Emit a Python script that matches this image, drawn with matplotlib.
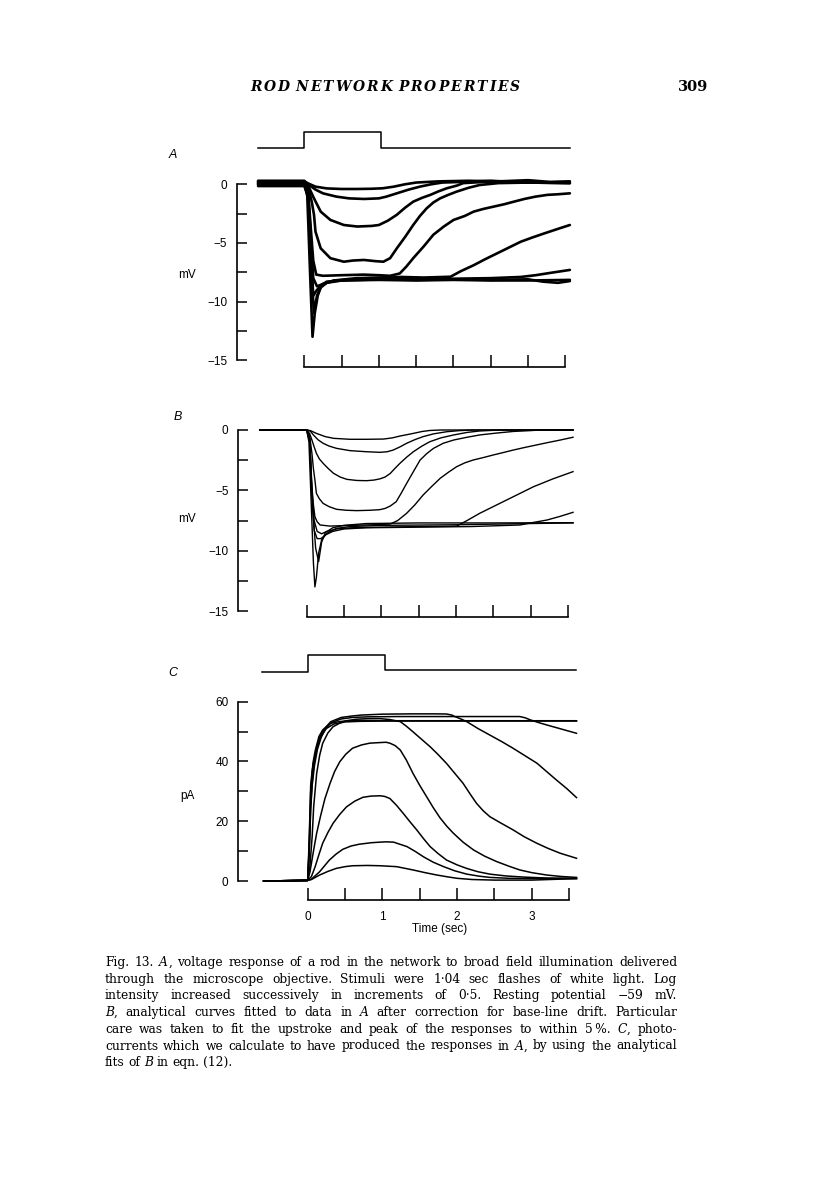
import matplotlib
matplotlib.use("Agg")
import matplotlib.pyplot as plt

W, H = 816, 1185
SANS = "Liberation Sans"
SERIF = "DejaVu Serif"

# ---------------- values (time in sec) ----------------
# stimulus monitor (0 = light off, 1 = light on)
stim_a_t = [-0.62, 0.0, 0.0, 1.03, 1.03, 3.56]
stim_a_v = [0, 0, 1, 1, 0, 0]
stim_c_t = [-0.61, 0.0, 0.0, 1.04, 1.04, 3.59]
stim_c_v = [0, 0, 1, 1, 0.1, 0.1]

# A: recorded voltage responses (mV)
a1_t = [-0.62, 0.0, 0.06, 0.15, 0.3, 0.5, 0.7, 0.9, 1.05, 1.2, 1.35, 1.5, 1.8, 2.2, 2.6, 3.0, 3.3, 3.56]
a1_v = [0.25, 0.25, 0.05, -0.2, -0.35, -0.4, -0.4, -0.38, -0.34, -0.2, 0.0, 0.15, 0.25, 0.3, 0.25, 0.35, 0.2, 0.25]
a2_t = [-0.62, 0.0, 0.05, 0.15, 0.25, 0.43, 0.6, 0.8, 1.0, 1.1, 1.25, 1.4, 1.55, 1.7, 1.85, 2.1, 2.5, 3.0, 3.56]
a2_v = [0.1, 0.1, 0.0, -0.45, -0.77, -1.05, -1.2, -1.25, -1.2, -1.05, -0.75, -0.45, -0.2, 0.0, 0.15, 0.2, 0.3, 0.15, 0.1]
a3_t = [-0.62, 0.0, 0.05, 0.13, 0.22, 0.35, 0.53, 0.71, 0.9, 1.0, 1.12, 1.24, 1.35, 1.46, 1.58, 1.69,
        1.8, 1.91, 2.05, 2.13, 2.4, 3.0, 3.56]
a3_v = [0.3, 0.3, -0.1, -1.2, -2.33, -3.04, -3.47, -3.6, -3.55, -3.47, -3.1, -2.6, -2.0, -1.48, -1.15, -0.9,
        -0.6, -0.34, -0.1, 0.1, 0.2, 0.15, 0.2]
a4_t = [-0.62, 0.0, 0.05, 0.1, 0.13, 0.15, 0.22, 0.35, 0.53, 0.65, 0.8, 0.95, 1.06, 1.15, 1.24, 1.35,
        1.46, 1.55, 1.64, 1.73, 1.82, 1.93, 2.04, 2.2, 2.35, 2.6, 3.0, 3.56]
a4_v = [-0.05, -0.05, -0.2, -1.5, -2.6, -4.04, -5.46, -6.3, -6.6, -6.5, -6.45, -6.55, -6.6, -6.3, -5.46, -4.5,
        -3.47, -2.7, -2.05, -1.55, -1.2, -0.9, -0.63, -0.3, -0.06, 0.1, 0.15, 0.1]
a5_t = [-0.62, 0.0, 0.05, 0.09, 0.12, 0.16, 0.25, 0.5, 0.8, 1.0, 1.15, 1.28, 1.37, 1.46, 1.6, 1.73, 1.87,
        2.0, 2.15, 2.27, 2.4, 2.54, 2.68, 2.81, 2.95, 3.1, 3.26, 3.4, 3.56]
a5_v = [0.15, 0.15, -0.5, -4.0, -6.5, -7.7, -7.8, -7.75, -7.7, -7.75, -7.8, -7.6, -7.0, -6.3, -5.3, -4.3, -3.6,
        -3.04, -2.7, -2.33, -2.1, -1.9, -1.7, -1.48, -1.25, -1.05, -0.9, -0.85, -0.77]
a6_t = [-0.62, 0.0, 0.05, 0.09, 0.12, 0.17, 0.25, 0.4, 0.7, 1.0, 1.3, 1.6, 1.96, 2.1, 2.27, 2.42, 2.58,
        2.74, 2.9, 3.05, 3.21, 3.4, 3.56]
a6_v = [0.0, 0.0, -0.6, -5.0, -8.0, -8.7, -8.5, -8.2, -8.0, -7.95, -7.9, -7.95, -7.88, -7.4, -6.9, -6.4, -5.9,
        -5.4, -4.9, -4.55, -4.2, -3.8, -3.47]
a7_t = [-0.62, 0.0, 0.05, 0.09, 0.12, 0.17, 0.25, 0.4, 0.7, 1.0, 1.5, 2.0, 2.5, 2.9, 3.1, 3.3, 3.56]
a7_v = [0.2, 0.2, -0.8, -6.0, -9.5, -9.0, -8.5, -8.2, -8.1, -8.0, -8.0, -8.05, -8.0, -7.9, -7.75, -7.55, -7.3]
a8_t = [-0.62, 0.0, 0.05, 0.09, 0.13, 0.17, 0.22, 0.3, 0.5, 1.0, 1.5, 2.0, 2.5, 3.0, 3.2, 3.4, 3.56]
a8_v = [-0.15, -0.15, -1.0, -7.0, -11.0, -9.5, -8.8, -8.4, -8.2, -8.1, -8.15, -8.1, -8.15, -8.1, -8.3, -8.4, -8.25]
a9_t = [-0.62, 0.0, 0.04, 0.08, 0.11, 0.14, 0.18, 0.23, 0.3, 0.5, 1.0, 1.5, 2.0, 2.5, 3.0, 3.56]
a9_v = [0.05, 0.05, -1.0, -8.0, -13.0, -11.0, -9.5, -8.6, -8.3, -8.2, -8.15, -8.2, -8.15, -8.2, -8.2, -8.15]

# B: analytical fits (mV)
b1_t = [-0.63, 0.0, 0.05, 0.13, 0.25, 0.36, 0.58, 0.8, 1.03, 1.15, 1.25, 1.35, 1.43, 1.55, 1.65, 1.8, 2.2, 3.57]
b1_v = [0, 0, -0.05, -0.28, -0.55, -0.69, -0.77, -0.77, -0.75, -0.65, -0.5, -0.38, -0.28, -0.12, -0.04, 0, 0, 0]
b2_t = [-0.63, 0.0, 0.05, 0.09, 0.15, 0.22, 0.3, 0.4, 0.58, 0.8, 0.98, 1.08, 1.16, 1.25, 1.34, 1.45, 1.56,
        1.7, 1.88, 2.05, 2.23, 3.57]
b2_v = [0, 0, -0.1, -0.41, -0.8, -1.1, -1.33, -1.52, -1.71, -1.8, -1.85, -1.8, -1.66, -1.4, -1.1, -0.8, -0.55,
        -0.32, -0.14, -0.05, 0, 0]
b3_t = [-0.63, 0.0, 0.04, 0.07, 0.1, 0.13, 0.17, 0.22, 0.29, 0.36, 0.45, 0.54, 0.67, 0.8, 0.9, 0.98, 1.05,
        1.12, 1.18, 1.25, 1.34, 1.43, 1.54, 1.65, 1.8, 1.97, 2.15, 2.32, 2.6, 3.57]
b3_v = [0, 0, -0.3, -0.83, -1.4, -1.93, -2.4, -2.76, -3.2, -3.59, -3.9, -4.09, -4.18, -4.2, -4.15, -4.05, -3.9,
        -3.6, -3.2, -2.76, -2.25, -1.8, -1.35, -0.97, -0.65, -0.41, -0.2, -0.08, 0, 0]
b4_t = [-0.63, 0.0, 0.04, 0.07, 0.09, 0.11, 0.13, 0.17, 0.22, 0.3, 0.4, 0.53, 0.67, 0.85, 0.98, 1.05, 1.12,
        1.2, 1.27, 1.34, 1.43, 1.52, 1.61, 1.7, 1.83, 1.97, 2.15, 2.32, 2.55, 2.77, 3.0, 3.13, 3.57]
b4_v = [0, 0, -0.5, -1.93, -3.2, -4.14, -5.25, -5.7, -6.08, -6.35, -6.57, -6.65, -6.68, -6.65, -6.6, -6.5, -6.3,
        -5.94, -5.2, -4.42, -3.45, -2.49, -1.95, -1.52, -1.1, -0.83, -0.6, -0.41, -0.25, -0.12, -0.05, 0, 0]
b5_t = [-0.63, 0.0, 0.04, 0.07, 0.09, 0.11, 0.14, 0.18, 0.31, 0.6, 0.9, 1.12, 1.22, 1.34, 1.45, 1.56, 1.68,
        1.79, 1.9, 2.01, 2.12, 2.23, 2.37, 2.5, 2.64, 2.77, 2.92, 3.08, 3.24, 3.4, 3.57]
b5_v = [0, 0, -0.7, -4.7, -6.2, -7.18, -7.6, -7.87, -7.96, -7.9, -7.85, -7.79, -7.5, -6.9, -6.2, -5.39, -4.65,
        -4.0, -3.5, -3.04, -2.72, -2.49, -2.28, -2.07, -1.86, -1.66, -1.45, -1.24, -1.03, -0.83, -0.6]
b6_t = [-0.63, 0.0, 0.04, 0.07, 0.1, 0.14, 0.2, 0.27, 0.4, 0.6, 1.0, 1.5, 1.9, 2.01, 2.15, 2.32, 2.5, 2.68,
        2.86, 3.04, 3.3, 3.57]
b6_v = [0, 0, -0.8, -5.0, -7.5, -8.4, -8.6, -8.4, -8.2, -8.1, -8.05, -8.0, -7.98, -7.96, -7.5, -6.9, -6.35, -5.8,
        -5.25, -4.7, -4.05, -3.45]
b7_t = [-0.63, 0.0, 0.04, 0.07, 0.1, 0.14, 0.19, 0.25, 0.35, 0.5, 0.8, 1.5, 2.2, 2.86, 3.0, 3.22, 3.4, 3.57]
b7_v = [0, 0, -0.9, -5.5, -8.3, -9.0, -9.0, -8.7, -8.4, -8.2, -8.1, -8.05, -8.0, -7.87, -7.7, -7.46, -7.15, -6.82]
b8_t = [-0.63, 0.0, 0.04, 0.08, 0.12, 0.16, 0.2, 0.25, 0.35, 0.5, 0.8, 1.5, 2.5, 3.57]
b8_v = [0, 0, -1.0, -6.5, -9.8, -10.9, -9.3, -8.5, -8.1, -7.9, -7.75, -7.7, -7.7, -7.68]
b9_t = [-0.63, 0.0, 0.03, 0.06, 0.09, 0.11, 0.13, 0.16, 0.2, 0.27, 0.4, 0.58, 1.0, 2.0, 3.0, 3.57]
b9_v = [0, 0, -1.0, -6.0, -11.0, -13.0, -12.2, -10.2, -9.1, -8.56, -8.15, -8.0, -7.9, -7.85, -7.75, -7.7]

# C: calculated photocurrents (pA)
c1_t = [-0.59, -0.3, 0.0, 0.05, 0.16, 0.27, 0.38, 0.5, 0.6, 0.8, 0.97, 1.19, 1.41, 1.57, 1.73, 1.87, 2.0,
        2.2, 2.5, 3.0, 3.6]
c1_v = [0, 0.05, 0.2, 0.5, 2.0, 3.2, 4.2, 4.8, 5.1, 5.2, 5.1, 4.8, 3.7, 2.8, 2.0, 1.4, 0.9, 0.5, 0.3, 0.3, 0.8]
c2_t = [-0.59, 0.0, 0.05, 0.16, 0.29, 0.38, 0.47, 0.58, 0.69, 0.85, 0.97, 1.05, 1.15, 1.33, 1.44, 1.55, 1.68,
        1.82, 1.97, 2.13, 2.3, 2.44, 2.7, 3.0, 3.6]
c2_v = [0, 0.2, 0.6, 3.1, 7.0, 9.0, 10.6, 11.7, 12.3, 12.8, 13.0, 13.1, 13.0, 11.5, 9.9, 8.1, 6.3,
        4.8, 3.4, 2.3, 1.6, 1.2, 0.9, 0.8, 0.8]
c3_t = [-0.59, 0.0, 0.05, 0.1, 0.15, 0.2, 0.27, 0.34, 0.43, 0.52, 0.63, 0.74, 0.85, 0.97, 1.03, 1.1, 1.19,
        1.28, 1.37, 1.46, 1.55, 1.64, 1.75, 1.86, 2.0, 2.13, 2.28, 2.44, 2.65, 2.9, 3.2, 3.6]
c3_v = [0, 0.2, 1.5, 4.8, 8.8, 12.6, 16.2, 19.3, 22.3, 24.8, 26.7, 28.0, 28.4, 28.5, 28.3, 27.6, 25.3,
        22.6, 19.8, 17.1, 14.2, 11.5, 9.1, 7.0, 5.4, 4.2, 3.1, 2.3, 1.7, 1.3, 1.0, 0.9]
c4_t = [-0.59, 0.0, 0.03, 0.08, 0.12, 0.17, 0.23, 0.3, 0.36, 0.43, 0.51, 0.6, 0.72, 0.83, 0.97, 1.05, 1.1,
        1.17, 1.24, 1.32, 1.41, 1.5, 1.59, 1.68, 1.77, 1.86, 1.95, 2.08, 2.22, 2.37, 2.53, 2.7, 2.84, 3.0,
        3.2, 3.4, 3.6]
c4_v = [0, 0.2, 3.0, 10.4, 16.0, 21.5, 27.5, 32.7, 36.6, 39.9, 42.4, 44.4, 45.5, 46.1, 46.3, 46.4, 46.1,
        45.3, 43.8, 40.5, 36.0, 32.0, 28.3, 24.6, 21.2, 18.4, 16.0, 13.0, 10.4, 8.3, 6.5, 4.9, 3.7, 2.8,
        2.0, 1.5, 1.2]
c5_t = [-0.59, 0.0, 0.03, 0.06, 0.08, 0.12, 0.16, 0.2, 0.27, 0.34, 0.43, 0.52, 0.65, 0.8, 0.97, 1.1, 1.24,
        1.32, 1.41, 1.52, 1.64, 1.75, 1.86, 1.97, 2.08, 2.17, 2.26, 2.35, 2.44, 2.6, 2.75, 2.9, 3.07, 3.22,
        3.38, 3.6]
c5_v = [0, 0.2, 5.0, 15.0, 24.8, 36.0, 42.0, 46.0, 49.5, 51.6, 52.8, 53.6, 54.1, 54.3, 54.3, 54.0, 53.3,
        51.8, 49.9, 47.5, 44.9, 42.2, 39.3, 36.0, 32.7, 29.3, 26.0, 23.5, 21.5, 19.2, 17.1, 14.8, 12.6, 10.9,
        9.3, 7.6]
c6_t = [-0.59, 0.0, 0.02, 0.04, 0.06, 0.08, 0.12, 0.16, 0.21, 0.31, 0.45, 0.6, 0.72, 1.0, 1.4, 1.7, 1.86,
        1.93, 1.97, 2.05, 2.13, 2.28, 2.44, 2.6, 2.75, 2.91, 3.07, 3.2, 3.33, 3.47, 3.6]
c6_v = [0, 0.2, 10.0, 25.0, 33.0, 38.2, 44.9, 48.0, 50.5, 53.3, 54.7, 55.2, 55.5, 55.8, 55.9, 55.9, 55.85,
        55.5, 55.0, 54.2, 53.3, 51.0, 48.8, 46.6, 44.4, 41.9, 39.4, 36.6, 33.8, 30.9, 27.9]
c7_t = [-0.59, 0.0, 0.02, 0.04, 0.06, 0.09, 0.13, 0.18, 0.24, 0.32, 0.45, 0.6, 0.8, 1.2, 1.8, 2.3, 2.84,
        2.91, 2.98, 3.09, 3.2, 3.4, 3.6]
c7_v = [0, 0.2, 9.0, 24.0, 32.0, 38.5, 44.0, 48.0, 51.0, 53.0, 54.2, 54.7, 54.9, 55.0, 55.0, 55.0, 55.0,
        54.6, 53.9, 53.0, 52.2, 50.8, 49.4]
c8_t = [-0.59, 0.0, 0.02, 0.04, 0.07, 0.1, 0.15, 0.2, 0.3, 0.4, 0.52, 0.7, 1.0, 1.5, 2.0, 2.5, 3.0, 3.6]
c8_v = [0, 0.2, 12.0, 30.0, 39.4, 43.5, 48.3, 50.5, 52.7, 53.2, 53.6, 53.7, 53.6, 53.6, 53.6, 53.6, 53.6, 53.6]
c9_t = [-0.59, 0.0, 0.02, 0.04, 0.06, 0.09, 0.13, 0.18, 0.25, 0.35, 0.5, 0.7, 1.0, 1.5, 2.0, 2.5, 3.0, 3.6]
c9_v = [0, 0.2, 14.0, 32.0, 37.0, 41.0, 45.0, 48.5, 51.0, 52.5, 53.2, 53.4, 53.5, 53.5, 53.5, 53.5, 53.5, 53.5]

header = "ROD NETWORK PROPERTIES"
page_no = "309"
caption = [
    "Fig. 13. *A*, voltage response of a rod in the network to broad field illumination delivered",
    "through the microscope objective. Stimuli were 1·04 sec flashes of white light. Log",
    "intensity increased successively in increments of 0·5. Resting potential −59 mV.",
    "*B*, analytical curves fitted to data in *A* after correction for base-line drift. Particular",
    "care was taken to fit the upstroke and peak of the responses to within 5\u2009%. *C*, photo-",
    "currents which we calculate to have produced the responses in *A*, by using the analytical",
    "fits of *B* in eqn. (12).",
]

fig = plt.figure(figsize=(W / 100, H / 100), dpi=100)
fig.patch.set_facecolor("white")


def px_axes(x0, px_x, y0, px_y, xlim, ylim):
    # axes placed so that data (0, 0) lands on pixel (x0, y0) of the page
    left = x0 + xlim[0] * px_x
    right = x0 + xlim[1] * px_x
    top = y0 - ylim[1] * px_y
    bottom = y0 - ylim[0] * px_y
    ax = fig.add_axes([left / W, 1 - bottom / H, (right - left) / W, (bottom - top) / H])
    ax.set_xlim(xlim)
    ax.set_ylim(ylim)
    ax.patch.set_alpha(0)
    return ax


def style_panel(ax, y_bounds, y_major, y_minor, x_labels):
    ax.spines["top"].set_visible(False)
    ax.spines["right"].set_visible(False)
    ax.spines["left"].set_bounds(*y_bounds)
    ax.spines["bottom"].set_bounds(0, 3.5)
    for s in ("left", "bottom"):
        ax.spines[s].set_linewidth(1.2)
    ax.set_yticks(y_major)
    ax.set_yticks(y_minor, minor=True)
    if x_labels:
        ax.set_xticks([0, 1, 2, 3])
        ax.set_xticks([0.5, 1.5, 2.5, 3.5], minor=True)
    else:
        ax.set_xticks([0, 0.5, 1, 1.5, 2, 2.5, 3, 3.5])
        ax.set_xticklabels([])
    ax.tick_params(axis="y", which="both", direction="in", length=7, width=1.1,
                   labelsize=8.5, pad=7)
    ax.tick_params(axis="x", which="both", direction="in", length=8.5, width=1.1,
                   labelsize=8.5, pad=8)
    for lab in ax.get_xticklabels() + ax.get_yticklabels():
        lab.set_family(SANS)


# ---------------- panel A ----------------
sa = px_axes(304.3, 74.6, 147.7, 16.0, (-0.9, 3.65), (-0.5, 1.5))
sa.set_axis_off()
sa.plot(stim_a_t, stim_a_v, color="black", lw=1.1)

ax_a = px_axes(304.3, 74.6, 184.3, 11.73, (-0.9, 3.65), (-15.55, 1.2))
style_panel(ax_a, (-15, 0), [0, -5, -10, -15], [-2.5, -7.5, -12.5], False)
for t, v in [(a1_t, a1_v), (a2_t, a2_v), (a3_t, a3_v), (a4_t, a4_v), (a5_t, a5_v),
             (a6_t, a6_v), (a7_t, a7_v), (a8_t, a8_v), (a9_t, a9_v)]:
    ax_a.plot(t, v, color="black", lw=1.9, solid_joinstyle="round", solid_capstyle="round")

# ---------------- panel B ----------------
ax_b = px_axes(306.7, 74.6, 430.0, 12.07, (-0.917, 3.65), (-15.5, 1.2))
style_panel(ax_b, (-15, 0), [0, -5, -10, -15], [-2.5, -7.5, -12.5], False)
for t, v in [(b1_t, b1_v), (b2_t, b2_v), (b3_t, b3_v), (b4_t, b4_v), (b5_t, b5_v),
             (b6_t, b6_v), (b7_t, b7_v), (b8_t, b8_v), (b9_t, b9_v)]:
    ax_b.plot(t, v, color="black", lw=1.0, solid_joinstyle="round")

# ---------------- panel C ----------------
sc = px_axes(307.7, 74.67, 671.7, 16.7, (-0.93, 3.65), (-0.5, 1.5))
sc.set_axis_off()
sc.plot(stim_c_t, stim_c_v, color="black", lw=1.1)

ax_c = px_axes(307.7, 74.67, 881.0, 2.99, (-0.93, 3.65), (-6.35, 65))
style_panel(ax_c, (0, 60), [0, 20, 40, 60], [10, 30, 50], True)
for t, v in [(c1_t, c1_v), (c2_t, c2_v), (c3_t, c3_v), (c4_t, c4_v), (c5_t, c5_v),
             (c6_t, c6_v), (c7_t, c7_v), (c8_t, c8_v), (c9_t, c9_v)]:
    ax_c.plot(t, v, color="black", lw=1.1, solid_joinstyle="round")


# ---------------- page text ----------------
def put(xp, yp, s, **kw):
    return fig.text(xp / W, 1 - yp / H, s, **kw)


put(173, 155, "A", family=SANS, style="italic", fontsize=9, ha="center", va="center")
put(178, 417, "B", family=SANS, style="italic", fontsize=9, ha="center", va="center")
put(173, 673, "C", family=SANS, style="italic", fontsize=9, ha="center", va="center")
put(187, 275, "mV", family=SANS, fontsize=8.5, ha="center", va="center")
put(187, 519, "mV", family=SANS, fontsize=8.5, ha="center", va="center")
put(187, 796, "pA", family=SANS, fontsize=8.5, ha="center", va="center")
put(440, 929, "Time (sec)", family=SANS, fontsize=8.5, ha="center", va="center")

renderer = fig.canvas.get_renderer()


def width_of(t):
    return t.get_window_extent(renderer).width


# running head, letter-spaced between its measured ends
def tracked(text, x_left, x_right, y_base, size, **kw):
    words = [[put(0, 0, c, fontsize=size, va="baseline", ha="left", **kw) for c in w]
             for w in text.split(" ")]
    widths = [[width_of(t) for t in w] for w in words]
    total = sum(sum(w) for w in widths)
    space = size * 100 / 72 * 0.28
    n_gaps = sum(len(w) - 1 for w in words) + len(words) - 1
    track = (x_right - x_left - total - space * (len(words) - 1)) / n_gaps
    x = x_left
    for w, ws in zip(words, widths):
        for t, wd in zip(w, ws):
            t.set_position((x / W, 1 - y_base / H))
            x += wd + track
        x += space


tracked(header, 250, 520, 91, 10, family=SERIF, style="italic", fontweight="bold")
put(708, 91, page_no, family=SERIF, fontsize=10.5, fontweight="bold", ha="right", va="baseline")


# justified caption
def runs_of(word):
    return [(p, i % 2 == 1) for i, p in enumerate(word.split("*")) if p]


def caption_line(line, x_left, x_right, y_base, size, justify):
    placed = []
    for w in line.split(" "):
        items = []
        for s, ital in runs_of(w):
            t = put(0, 0, s, family=SERIF, fontsize=size, style="italic" if ital else "normal",
                    va="baseline", ha="left")
            items.append((t, width_of(t)))
        placed.append(items)
    widths = [sum(wd for _, wd in items) for items in placed]
    if justify:
        gap = (x_right - x_left - sum(widths)) / (len(placed) - 1)
    else:
        gap = size * 100 / 72 * 0.3
    x = x_left
    for items in placed:
        for t, wd in items:
            t.set_position((x / W, 1 - y_base / H))
            x += wd
        x += gap


cap_left, cap_right = 105, 677
probe = put(0, 0, caption[0].replace("*", ""), family=SERIF, fontsize=10)
cap_size = 10 * 0.965 * (cap_right - cap_left) / width_of(probe)
probe.remove()
for i, line in enumerate(caption):
    caption_line(line, cap_left, cap_right, 966 + 16.7 * i, cap_size, i < len(caption) - 1)

fig.savefig("out.png", dpi=100)
